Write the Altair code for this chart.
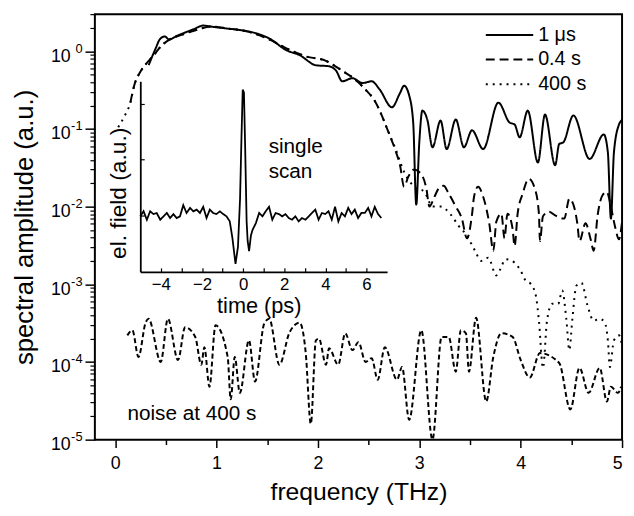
import altair as alt
import pandas as pd

FONT = "Liberation Sans"

# ---------------- data ----------------
series_names = ["1 μs", "0.4 s", "400 s"]

f_1us = [0.33, 0.40, 0.44, 0.49, 0.53, 0.62, 0.77, 0.87, 0.94, 1.10, 1.26, 1.39, 1.52, 1.69, 1.82,
         1.98, 2.11, 2.18, 2.24, 2.34, 2.44, 2.53, 2.61, 2.73, 2.81, 2.85, 2.90, 2.94, 2.97, 3.00,
         3.03, 3.08, 3.13, 3.21, 3.27, 3.36, 3.44, 3.52, 3.63, 3.78, 3.89, 3.94, 3.99, 4.07, 4.17,
         4.24, 4.34, 4.38, 4.42, 4.52, 4.68, 4.82, 4.86, 4.89, 4.92, 4.97, 5.00]
a_1us = [0.66, 1.09, 1.42, 1.55, 1.42, 1.60, 1.91, 2.14, 2.08, 1.96, 1.85, 1.70, 1.46, 1.03, 0.89,
         0.66, 0.64, 0.56, 0.41, 0.45, 0.39, 0.41, 0.32, 0.19, 0.29, 0.36, 0.27, 0.12, 0.0106, 0.067,
         0.172, 0.13, 0.058, 0.128, 0.055, 0.132, 0.058, 0.096, 0.055, 0.218, 0.121, 0.114, 0.078, 0.172, 0.037,
         0.153, 0.034, 0.064, 0.067, 0.149, 0.041, 0.085, 0.050, 0.0070, 0.050, 0.114, 0.13]

f_04s = [0.15, 0.19, 0.24, 0.31, 0.38, 0.46, 0.54, 0.67, 0.82, 0.94, 1.11, 1.30, 1.50, 1.69, 1.88,
         2.08, 2.24, 2.36, 2.47, 2.56, 2.62, 2.69, 2.76, 2.81, 2.85, 2.89, 2.95, 3.02, 3.07, 3.10,
         3.15, 3.19, 3.24, 3.29, 3.36, 3.42, 3.47, 3.52, 3.54, 3.58, 3.63, 3.69, 3.73, 3.76, 3.81,
         3.84, 3.87, 3.92, 3.94, 3.97, 4.02, 4.08, 4.14, 4.18, 4.19, 4.22, 4.28, 4.34, 4.43, 4.48,
         4.52, 4.56, 4.58, 4.64, 4.69, 4.72, 4.76, 4.81, 4.85, 4.89, 4.93, 4.97, 5.00]
a_04s = [0.218, 0.37, 0.52, 0.70, 0.89, 1.19, 1.42, 1.65, 1.91, 2.08, 1.96, 1.80, 1.46, 1.09, 0.86,
         0.75, 0.56, 0.44, 0.32, 0.23, 0.16, 0.095, 0.055, 0.034, 0.018, 0.024, 0.030, 0.026, 0.017, 0.010,
         0.0134, 0.017, 0.0185, 0.0147, 0.010, 0.0070, 0.0039, 0.0079, 0.0134, 0.018, 0.0134, 0.0061, 0.0027, 0.0064, 0.0081,
         0.0039, 0.0081, 0.0052, 0.0031, 0.0081, 0.0147, 0.0227, 0.017, 0.0081, 0.0036, 0.0075, 0.0086, 0.0077, 0.0070, 0.0126,
         0.0106, 0.0059, 0.0036, 0.0061, 0.0038, 0.0027, 0.0079, 0.0142, 0.0155, 0.010, 0.0056, 0.0038, 0.0064]

f_400s = [0.03, 0.09, 0.15, 0.19, 0.24, 0.31, 0.38, 0.46, 0.54, 0.67, 0.82, 0.94, 1.11, 1.30, 1.50,
          1.69, 1.88, 2.08, 2.24, 2.36, 2.47, 2.56, 2.62, 2.69, 2.76, 2.85, 2.95, 3.05, 3.13, 3.21,
          3.31, 3.39, 3.46, 3.55, 3.61, 3.68, 3.76, 3.80, 3.85, 3.94, 4.00, 4.05, 4.10, 4.15, 4.18,
          4.22, 4.26, 4.31, 4.37, 4.41, 4.45, 4.48, 4.51, 4.55, 4.60, 4.66, 4.72, 4.78, 4.83, 4.86,
          4.88, 4.92, 4.97, 5.00]
a_400s = [0.105, 0.144, 0.218, 0.37, 0.52, 0.70, 0.89, 1.19, 1.42, 1.65, 1.91, 2.08, 1.96, 1.80, 1.46,
          1.09, 0.86, 0.75, 0.56, 0.44, 0.32, 0.23, 0.16, 0.095, 0.058, 0.028, 0.018, 0.0155, 0.010, 0.010,
          0.0079, 0.0056, 0.0044, 0.0027, 0.0020, 0.0022, 0.0013, 0.00157, 0.0021, 0.0019, 0.00149, 0.00111, 0.00101, 0.00071, 0.00034,
          0.000084, 0.00034, 0.00056, 0.00056, 0.00083, 0.00036, 0.000142, 0.00036, 0.00096, 0.00104, 0.00053, 0.00034, 0.00036, 0.00032, 0.00019,
          0.000086, 0.00019, 0.00022, 0.000165]

f_noise = [0.12, 0.17, 0.23, 0.30, 0.33, 0.45, 0.52, 0.62, 0.69, 0.79, 0.85, 0.88, 0.93, 0.99, 1.11,
           1.14, 1.18, 1.23, 1.32, 1.38, 1.47, 1.52, 1.62, 1.72, 1.82, 1.88, 1.93, 1.98, 2.01, 2.08,
           2.11, 2.20, 2.27, 2.34, 2.40, 2.47, 2.53, 2.59, 2.66, 2.78, 2.83, 2.90, 3.02, 3.13, 3.22,
           3.29, 3.36, 3.41, 3.46, 3.49, 3.56, 3.66, 3.73, 3.81, 3.92, 4.00, 4.09, 4.19, 4.38, 4.49,
           4.58, 4.67, 4.78, 4.85, 4.89, 4.96, 4.99]
a_noise = [2.2e-4, 2.56e-4, 1.16e-4, 3.2e-4, 3.6e-4, 1.0e-4, 3.6e-4, 1.06e-4, 2.8e-4, 2.1e-4, 9.2e-5, 1.55e-4, 4.8e-5, 2.96e-4, 1.16e-4,
           3.3e-5, 1.16e-4, 4.0e-5, 1.9e-4, 5.6e-5, 3.1e-4, 3.6e-4, 9.2e-5, 2.4e-4, 3.2e-4, 1.3e-4, 1.6e-5, 1.9e-4, 2.0e-4, 9.2e-5,
           1.5e-4, 9.2e-5, 2.34e-4, 1.42e-4, 1.8e-4, 1.0e-4, 1.12e-4, 5.9e-5, 1.55e-4, 5.9e-5, 8.6e-5, 1.8e-5, 2.56e-4, 1.0e-5, 2.1e-4,
           2.1e-4, 7.5e-5, 2.56e-4, 2.34e-4, 7.5e-5, 3.7e-4, 3.1e-5, 1.16e-4, 2.34e-4, 2.1e-4, 1.06e-4, 6.3e-5, 1.3e-4, 9.7e-5, 2.45e-5,
           8.4e-5, 4.0e-5, 8.4e-5, 3.1e-5, 4.8e-5, 4.0e-5, 4.8e-5]

t_inset = [-5.00, -4.84, -4.68, -4.52, -4.36, -4.20, -4.03, -3.87, -3.71, -3.55, -3.39, -3.23, -3.07, -2.91,
           -2.75, -2.58, -2.42, -2.26, -2.10, -1.94, -1.78, -1.62, -1.46, -1.30, -1.13, -0.97, -0.81, -0.65,
           -0.52, -0.37, -0.25, -0.15, -0.08, -0.02, 0.04, 0.10, 0.17, 0.22, 0.29, 0.38, 0.46,
           0.62, 0.78, 0.94, 1.10, 1.26, 1.42, 1.58, 1.74, 1.90, 2.06, 2.22, 2.38, 2.54, 2.70, 2.86, 3.03,
           3.19, 3.35, 3.51, 3.67, 3.83, 3.99, 4.15, 4.31, 4.47, 4.63, 4.79, 4.95, 5.11, 5.27, 5.43, 5.59,
           5.75, 5.92, 6.08, 6.24, 6.40, 6.56, 6.72]
v_inset = [-0.01, 0.08, -0.07, 0.08, 0.03, 0.05, -0.07, -0.01, 0.05, -0.04, 0.03, -0.04, -0.01, 0.19,
           0.05, 0.14, 0.08, 0.11, 0.05, 0.16, -0.04, 0.11, 0.05, 0.03, 0.08, 0.03, -0.01, -0.10,
           -0.40, -0.86, -0.55, 0.3, 1.4, 2.25, 2.2, 1.2, -0.1, -0.45, -0.63, -0.35, -0.25,
           -0.13, 0.05, -0.01, 0.08, 0.16, -0.07, 0.05, 0.03, -0.01, 0.03, -0.04, -0.07, -0.01, -0.10, -0.04, -0.07,
           -0.01, 0.05, 0.11, -0.07, 0.05, 0.03, 0.08, -0.07, 0.16, -0.10, 0.05, -0.01, 0.14, 0.03, 0.11, -0.04,
           0.05, 0.05, 0.14, -0.01, 0.16, 0.03, -0.04]

x_ticks = [0, 1, 2, 3, 4, 5]
x_minor = [0.5, 1.5, 2.5, 3.5, 4.5]
y_ticks = [1e-5, 1e-4, 1e-3, 1e-2, 1e-1, 1]
y_minor = [k * 10.0 ** n for n in range(-5, 1) for k in range(2, 10) if k * 10.0 ** n <= 3]
inset_x_labels = [-4, -2, 0, 2, 4, 6]
inset_x_ticks = [-4, -3, -2, -1, 0, 1, 2, 3, 4, 5, 6]
inset_y_ticks = [0, 1, 2]

annot_single = ["single\nscan"]
annot_noise = ["noise at 400 s"]

# ---------------- tables ----------------
spec_df = pd.concat([
    pd.DataFrame({"freq": f_1us, "amp": a_1us, "series": series_names[0]}),
    pd.DataFrame({"freq": f_04s, "amp": a_04s, "series": series_names[1]}),
    pd.DataFrame({"freq": f_400s, "amp": a_400s, "series": series_names[2]}),
], ignore_index=True)
noise_df = pd.DataFrame({"freq": f_noise, "amp": a_noise})
inset_df = pd.DataFrame({"t": t_inset, "v": v_inset})
legend_df = pd.DataFrame({"series": series_names})

W, H = 534, 431

x_main = alt.Scale(domain=[-0.2, 5], nice=False, zero=False)
y_main = alt.Scale(type="log", domain=[1e-5, 3], nice=False)
dash_scale = alt.Scale(domain=series_names, range=[[1, 0], [9, 5], [2, 5]])

spectra = alt.Chart(spec_df).mark_line(color="black", strokeWidth=2, interpolate="monotone", clip=True).encode(
    x=alt.X("freq:Q", scale=x_main,
            axis=alt.Axis(orient="bottom", values=x_ticks, format="d",
                          title="frequency (THz)", titleFontSize=25, titleY=61, titleBaseline="alphabetic",
                          labelFontSize=18, labelPadding=7, tickSize=8, tickWidth=1.5, domain=False)),
    y=alt.Y("amp:Q", scale=y_main,
            axis=alt.Axis(orient="left", values=y_ticks, labelExpr="'10'", labelAlign="right",
                          labelBaseline="middle", labelOffset=5,
                          title="spectral amplitude (a.u.)", titleFontSize=26, titleX=-63, titleBaseline="alphabetic",
                          labelFontSize=18, labelPadding=15, tickSize=10, tickWidth=1.5, domain=False)),
    strokeDash=alt.StrokeDash("series:N", scale=dash_scale, legend=None),
)

# noise curve, carrying the minor ticks of both axes
noise = alt.Chart(noise_df).mark_line(color="black", strokeWidth=2, strokeDash=[5, 3], interpolate="monotone",
                                      clip=True).encode(
    x=alt.X("freq:Q", scale=x_main,
            axis=alt.Axis(orient="bottom", values=x_minor, labels=False, domain=False, title=None,
                          tickSize=5, tickWidth=1.5)),
    y=alt.Y("amp:Q", scale=y_main,
            axis=alt.Axis(orient="left", values=y_minor, labels=False, domain=False, title=None,
                          tickSize=5, tickWidth=1.2)),
)

# exponent labels of the log axis
exponents = alt.Chart(noise_df).mark_line(strokeOpacity=0).encode(
    x=alt.X("freq:Q", scale=x_main, axis=None),
    y=alt.Y("amp:Q", scale=y_main,
            axis=alt.Axis(orient="left", values=y_ticks, labelExpr="'' + round(log(datum.value) / LN10)",
                          labelAlign="right", labelBaseline="middle", labelOffset=-3, labelFontSize=13,
                          labelPadding=13, ticks=False, tickSize=0, domain=False, title=None)),
)

ix_scale = alt.Scale(domain=[-5, 7], range=[46, 296], nice=False, zero=False)
iy_scale = alt.Scale(domain=[-1, 2.4], range=[261, 68], nice=False, zero=False)

inset = alt.Chart(inset_df).mark_line(color="black", strokeWidth=1.8).encode(
    x=alt.X("t:Q", scale=ix_scale,
            axis=alt.Axis(orient="bottom", offset=-170, values=inset_x_labels, ticks=False, tickSize=0,
                          domain=True, domainWidth=1.8, labelFontSize=17, labelPadding=5,
                          title="time (ps)", titleFontSize=22, titleX=166, titleY=41, titleBaseline="alphabetic")),
    y=alt.Y("v:Q", scale=iy_scale,
            axis=alt.Axis(orient="left", offset=-46, values=inset_y_ticks, ticks=False, tickSize=0, labels=False,
                          domain=True, domainWidth=1.8, title="el. field (a.u.)", titleFontSize=23,
                          titleX=-15, titleY=181, titleBaseline="alphabetic")),
)

inset_ticks = alt.Chart(inset_df).mark_line(strokeOpacity=0).encode(
    x=alt.X("t:Q", scale=ix_scale,
            axis=alt.Axis(orient="top", offset=-261, values=inset_x_ticks, labels=False, domain=False,
                          title=None, tickSize=4, tickWidth=1.2)),
    y=alt.Y("v:Q", scale=iy_scale,
            axis=alt.Axis(orient="right", offset=-488, values=inset_y_ticks, labels=False, domain=False,
                          title=None, tickSize=4, tickWidth=1.2)),
)

leg_y = alt.Y("series:N", scale=alt.Scale(type="point", domain=series_names, range=[21, 71], padding=0), axis=None)

legend_lines = alt.Chart(legend_df).mark_rule(color="black", strokeWidth=2).encode(
    x=alt.value(396), x2=alt.value(444), y=leg_y,
    strokeDash=alt.StrokeDash("series:N", scale=dash_scale, legend=None),
)
legend_text = alt.Chart(legend_df).mark_text(
    align="left", baseline="middle", fontSize=20, font=FONT, color="black"
).encode(x=alt.value(449), y=leg_y, text="series:N")

txt_single = alt.Chart(pd.DataFrame({"label": annot_single})).mark_text(
    align="left", baseline="alphabetic", fontSize=21, font=FONT, lineBreak="\n", lineHeight=25, color="black"
).encode(x=alt.value(176), y=alt.value(141), text="label:N")

txt_noise = alt.Chart(pd.DataFrame({"label": annot_noise})).mark_text(
    align="left", baseline="alphabetic", fontSize=21, font=FONT, color="black"
).encode(x=alt.value(33), y=alt.value(411), text="label:N")

chart = alt.layer(
    spectra, noise, exponents, inset, inset_ticks, legend_lines, legend_text, txt_single, txt_noise
).resolve_scale(
    x="independent", y="independent"
).properties(
    width=W, height=H,
    padding={"left": 88, "top": 3, "right": 4, "bottom": 66},
    autosize=alt.AutoSizeParams(type="none"),
).configure_view(
    stroke="black", strokeWidth=2
).configure_axis(
    labelFont=FONT, titleFont=FONT, labelColor="black", titleColor="black", tickColor="black",
    domainColor="black", grid=False, titleFontWeight="normal"
)

chart.save("out.html", embed_options={"renderer": "svg", "actions": False})
